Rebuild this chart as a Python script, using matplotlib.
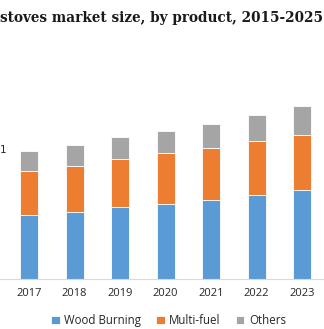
import numpy as np
import matplotlib
matplotlib.use("Agg")
import matplotlib.pyplot as plt

# Datos (unidades relativas)
years = ["2017", "2018", "2019", "2020", "2021", "2022", "2023"]
wood_burning = [63.7, 66.4, 71.7, 75.0, 79.0, 83.7, 88.7]
multi_fuel = [44.0, 46.6, 48.0, 50.4, 51.7, 54.0, 55.3]
others = [19.7, 20.4, 21.7, 22.6, 24.0, 25.7, 28.7]

colors = ["#5B9BD5", "#ED7D31", "#A5A5A5"]

fig = plt.figure(figsize=(3.24, 3.29), dpi=100)
ax = fig.add_axes([0, 0.153, 1, 0.726])

x = np.arange(len(years))
w = 0.4
ax.bar(x, wood_burning, w, color=colors[0], edgecolor="white", linewidth=0.6, label="Wood Burning")
ax.bar(x, multi_fuel, w, bottom=wood_burning, color=colors[1], edgecolor="white", linewidth=0.6, label="Multi-fuel")
bottom2 = np.array(wood_burning) + np.array(multi_fuel)
ax.bar(x, others, w, bottom=bottom2, color=colors[2], edgecolor="white", linewidth=0.6, label="Others")

ax.set_xlim(-0.64, 6.48)
ax.set_ylim(0, 238.7)
ax.set_xticks(x)
ax.set_xticklabels(years, fontsize=8, color="#262626", family="Open Sans")
ax.tick_params(axis="x", length=0, pad=6.5)
ax.set_yticks([])
for s in ["top", "right", "left"]:
    ax.spines[s].set_visible(False)
ax.spines["bottom"].set_color("#D9D9D9")
ax.spines["bottom"].set_linewidth(0.8)

fig.legend(loc="center", bbox_to_anchor=(0.52, 0.025), ncol=3, frameon=False,
           prop={"family": "Open Sans", "size": 8.3}, handlelength=0.75, handleheight=0.75,
           handletextpad=0.4, columnspacing=1.3, labelcolor="#262626")

fig.text(0.0, 0.945, "stoves market size, by product, 2015-2025", fontsize=9.8,
         fontweight="bold", family="DejaVu Serif", color="#1a1a1a", va="center", ha="left")
fig.text(0.0, 0.545, "1", fontsize=7.5, color="#262626", va="center", ha="left")

fig.savefig("out.png", dpi=100)
